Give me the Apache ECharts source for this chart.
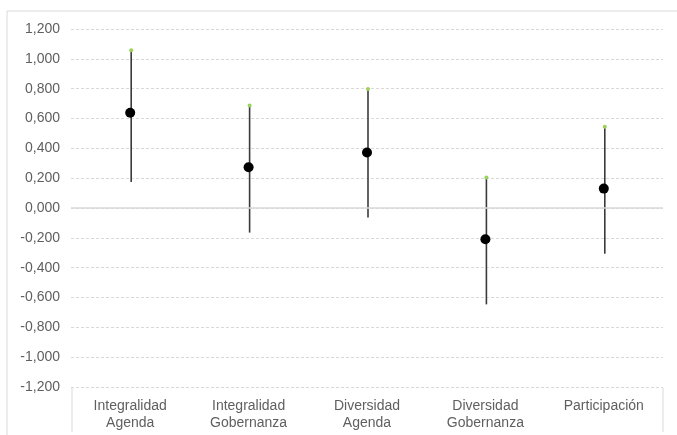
<!DOCTYPE html>
<html>
<head>
<meta charset="utf-8">
<script src="https://cdn.jsdelivr.net/npm/echarts@6/dist/echarts.min.js"></script>
<style>
html,body{margin:0;padding:0;background:#fff;}
#chart{width:677px;height:435px;}
</style>
</head>
<body>
<div id="chart"></div>
<script>
const categories = ['Integralidad\nAgenda', 'Integralidad\nGobernanza', 'Diversidad\nAgenda', 'Diversidad\nGobernanza', 'Participación'];
const meanValues = [0.638, 0.273, 0.372, -0.210, 0.130];
const upperValues = [1.058, 0.687, 0.797, 0.204, 0.544];
const lowerValues = [0.175, -0.165, -0.064, -0.646, -0.306];
const yTicks = { min: -1.2, max: 1.2, interval: 0.2 };

const GRID = { left: 71, right: 14, top: 29, bottom: 48 };
const FONT = 'Liberation Sans';
const TEXT = '#5f5f5f';

const chart = echarts.init(document.getElementById('chart'));

const errData = categories.map((c, i) => [i, lowerValues[i], upperValues[i]]);

chart.setOption({
  animation: false,
  backgroundColor: '#ffffff',
  grid: GRID,
  xAxis: {
    type: 'category',
    data: categories,
    boundaryGap: true,
    axisLine: { show: false },
    axisTick: { show: false },
    axisLabel: { color: TEXT, fontFamily: FONT, fontSize: 14, lineHeight: 17, margin: 11, interval: 0 }
  },
  yAxis: {
    type: 'value',
    min: yTicks.min,
    max: yTicks.max,
    interval: yTicks.interval,
    axisLine: { show: false },
    axisTick: { show: false },
    axisLabel: {
      color: TEXT, fontFamily: FONT, fontSize: 14, margin: 11,
      formatter: v => v.toFixed(3).replace('.', ',')
    },
    splitLine: { show: true, lineStyle: { color: '#d9d9d9', type: [3, 2], width: 1 } }
  },
  series: [
    {
      type: 'custom',
      data: errData,
      encode: { x: 0, y: [1, 2] },
      renderItem: (params, api) => {
        const x = api.value(0);
        const lo = api.coord([x, api.value(1)]);
        const hi = api.coord([x, api.value(2)]);
        return {
          type: 'line',
          shape: { x1: lo[0] + 1, y1: lo[1], x2: hi[0] + 1, y2: hi[1] },
          style: { stroke: '#3a3a3a', lineWidth: 1.6 }
        };
      },
      z: 2,
      markLine: {
        silent: true,
        symbol: ['none', 'none'],
        label: { show: false },
        lineStyle: { color: '#d9d9d9', type: 'solid', width: 1.5 },
        data: [{ yAxis: 0 }]
      }
    },
    {
      type: 'scatter',
      data: upperValues.map((v, i) => [i + 0, v]),
      symbol: 'circle',
      symbolSize: 4,
      itemStyle: { color: '#9bd35a', opacity: 1 },
      symbolOffset: [1, 0],
      z: 3
    },
    {
      type: 'scatter',
      data: meanValues.map((v, i) => [i, v]),
      symbol: 'circle',
      symbolSize: 10,
      itemStyle: { color: '#000000', opacity: 1 },
      z: 4
    }
  ]
});

const leftX = GRID.left + 1;
const rightX = 677 - GRID.right;
const axisY = 435 - GRID.bottom;
chart.setOption({
  graphic: [
    { type: 'rect', shape: { x: 7, y: 11, width: 700, height: 440 }, style: { fill: 'none', stroke: '#d9d9d9', lineWidth: 1 }, silent: true },
    { type: 'line', shape: { x1: leftX, y1: axisY + 1, x2: leftX, y2: 432 }, style: { stroke: '#d9d9d9', lineWidth: 1 }, silent: true },
    { type: 'line', shape: { x1: rightX, y1: axisY + 1, x2: rightX, y2: 432 }, style: { stroke: '#d9d9d9', lineWidth: 1 }, silent: true }
  ]
});
</script>
</body>
</html>
